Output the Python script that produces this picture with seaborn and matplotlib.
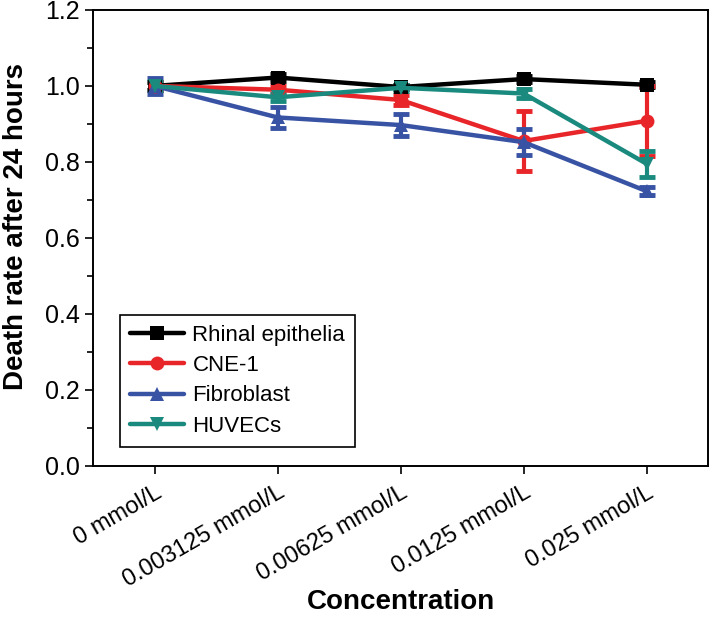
import matplotlib
matplotlib.use("Agg")
import matplotlib.pyplot as plt
import numpy as np
import pandas as pd
import seaborn as sns
from matplotlib.ticker import MultipleLocator

# ---------- data ----------
concentrations = ["0 mmol/L", "0.003125 mmol/L", "0.00625 mmol/L", "0.0125 mmol/L", "0.025 mmol/L"]
cells = ["Rhinal epithelia", "CNE-1", "Fibroblast", "HUVECs"]

rhinal = [1.000, 1.022, 0.997, 1.018, 1.003]
rhinal_err = [0.010, 0.008, 0.005, 0.008, 0.006]
cne1 = [1.000, 0.990, 0.963, 0.855, 0.908]
cne1_err = [0.010, 0.010, 0.012, 0.078, 0.092]
fibroblast = [1.000, 0.917, 0.897, 0.852, 0.723]
fibroblast_err = [0.020, 0.027, 0.030, 0.034, 0.010]
huvecs = [1.000, 0.970, 0.995, 0.980, 0.795]
huvecs_err = [0.010, 0.010, 0.008, 0.012, 0.034]

colors = ["#000000", "#E8262A", "#3953A4", "#1A8A7F"]
markers = ["s", "o", "^", "v"]

values = [rhinal, cne1, fibroblast, huvecs]
errors = [rhinal_err, cne1_err, fibroblast_err, huvecs_err]

pos = np.arange(len(concentrations))
df = pd.DataFrame({
    "x": np.tile(pos, len(cells)),
    "y": np.concatenate(values),
    "err": np.concatenate(errors),
    "cell": np.repeat(cells, len(concentrations)),
})

# ---------- plot ----------
sns.set_style("ticks")
plt.rcParams["font.family"] = ["Liberation Sans", "DejaVu Sans"]
plt.rcParams["text.color"] = "black"
plt.rcParams["axes.labelcolor"] = "black"
plt.rcParams["xtick.color"] = "black"
plt.rcParams["ytick.color"] = "black"

fig = plt.figure(figsize=(7.11, 6.18), dpi=100)
ax = fig.add_axes([0.131, 0.246, 0.865, 0.738])

for name, col in zip(cells, colors):
    sub = df[df["cell"] == name]
    ax.errorbar(sub["x"], sub["y"], yerr=sub["err"], fmt="none", ecolor=col,
                elinewidth=3, capsize=6, capthick=3.5, zorder=2)

sns.lineplot(data=df, x="x", y="y", hue="cell", style="cell",
             hue_order=cells, style_order=cells, palette=colors,
             markers=markers, dashes=False, markersize=10, linewidth=3.2,
             markeredgewidth=0, ax=ax, zorder=3)

ax.set_xlim(-0.5, 4.5)
ax.set_ylim(0, 1.2)
ax.set_xticks(pos)
ax.set_xticklabels(concentrations, rotation=30, ha="right", rotation_mode="anchor", fontsize=17)
ax.yaxis.set_major_locator(MultipleLocator(0.2))
ax.yaxis.set_minor_locator(MultipleLocator(0.1))
ax.set_yticklabels([f"{v:.1f}" for v in ax.get_yticks()], fontsize=18)
ax.tick_params(axis="both", which="major", length=6, width=1.2, direction="out")
ax.tick_params(axis="y", which="minor", length=4, width=1.2)
ax.tick_params(axis="x", pad=5)

for s in ax.spines.values():
    s.set_linewidth(1.4)
    s.set_color("black")

ax.set_xlabel("Concentration", fontsize=20, fontweight="bold", labelpad=-2)
ax.set_ylabel("Death rate after 24 hours", fontsize=20, fontweight="bold")
ax.yaxis.set_label_coords(-0.104, 0.526)

leg = ax.legend(loc="lower left", fontsize=16, frameon=True, fancybox=False,
                edgecolor="black", framealpha=1, handlelength=2.4,
                borderpad=0.45, labelspacing=0.42, handletextpad=0.4,
                borderaxespad=0, bbox_to_anchor=(0.044, 0.042))
leg.get_frame().set_linewidth(1.2)

fig.savefig("out.png", dpi=100)
